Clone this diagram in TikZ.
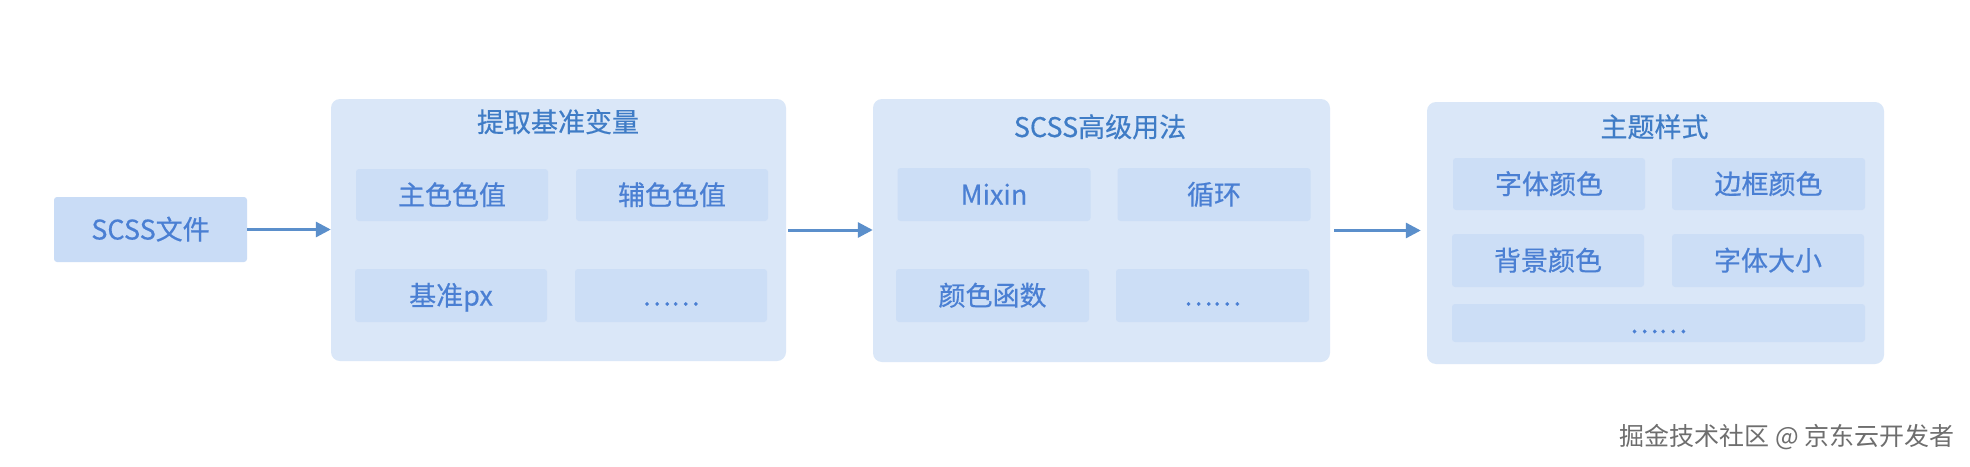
\documentclass[tikz,border=0pt]{standalone}
\usepackage{fontspec}
\newfontfamily\cjk[FakeBold=0.5]{Noto Sans CJK SC}
\newfontfamily\cjkwm{Noto Sans CJK SC}
\usetikzlibrary{arrows.meta}
\definecolor{bigfill}{HTML}{DAE7F8}
\definecolor{innerfill}{HTML}{CCDEF6}
\definecolor{srcfill}{HTML}{C9DCF6}
\definecolor{txtblue}{HTML}{4A7FD3}
\definecolor{ttlblue}{HTML}{3F7CC6}
\definecolor{arrowblue}{HTML}{5B8FCB}
\definecolor{wmgray}{HTML}{6E6E6E}
\begin{document}
\begin{tikzpicture}[x=1pt,y=-1pt,
  txt/.style={font=\cjk\fontsize{27}{32}\selectfont, text height=20.5pt, text depth=0.5pt, inner sep=0pt},
  group/.style={fill=bigfill, rounded corners=9pt, draw=none, inner sep=0pt},
  item/.style={txt, fill=innerfill, rounded corners=3pt, text=txtblue},
  src/.style={txt, fill=srcfill, rounded corners=3pt, text=txtblue},
  ttl/.style={txt, text=ttlblue},
  flow/.style={draw=arrowblue, line width=3pt, -{Triangle[length=15pt,width=15pt]}}
]
\useasboundingbox[fill=white] (0,0) rectangle (1970,466);

% source
\node[src, minimum width=193pt, minimum height=65pt] (scss) at (150.5,229.5) {SCSS文件};

% group 1
\node[group, minimum width=455pt, minimum height=262pt] (g1) at (558.5,230) {};
\node[ttl] (t1) at (558,122) {提取基准变量};
\node[item, minimum width=192pt, minimum height=52pt] (a11) at (452,195) {主色色值};
\node[item, minimum width=192pt, minimum height=52pt] (a12) at (672,195) {辅色色值};
\node[item, minimum width=192pt, minimum height=53pt] (a21) at (451,295.5) {基准px};
\node[item, minimum width=192pt, minimum height=53pt] (a22) at (671,295.5) {……};

% group 2
\node[group, minimum width=457pt, minimum height=263pt] (g2) at (1101.5,230.5) {};
\node[ttl] (t2) at (1100,127) {SCSS高级用法};
\node[item, minimum width=193pt, minimum height=53pt] (b11) at (994,194.5) {Mixin};
\node[item, minimum width=193pt, minimum height=53pt] (b12) at (1214,194.5) {循环};
\node[item, minimum width=193pt, minimum height=53pt] (b21) at (992.5,295.5) {颜色函数};
\node[item, minimum width=193pt, minimum height=53pt] (b22) at (1212.5,295.5) {……};

% group 3
\node[group, minimum width=457pt, minimum height=262pt] (g3) at (1655.5,233) {};
\node[ttl] (t3) at (1654.5,127) {主题样式};
\node[item, minimum width=192pt, minimum height=52pt] (c11) at (1549,184) {字体颜色};
\node[item, minimum width=193pt, minimum height=52pt] (c12) at (1768.5,184) {边框颜色};
\node[item, minimum width=192pt, minimum height=53pt] (c21) at (1548,260.5) {背景颜色};
\node[item, minimum width=192pt, minimum height=53pt] (c22) at (1768,260.5) {字体大小};
\node[item, minimum width=413pt, minimum height=38pt] (c3) at (1658.5,323) {……};

% connectors
\draw[flow] (scss.east) -- (scss.east -| g1.west);
\draw[flow, shorten <=2pt] (g1.east) -- (g1.east -| g2.west);
\draw[flow, shorten <=4pt, shorten >=6pt] (g2.east) -- (g2.east -| g3.west);

% watermark
\node[font=\cjkwm\fontsize{25}{30}\selectfont, text height=19pt, text depth=0.5pt, inner sep=0pt, text=wmgray] (wm) at (1787,436.5) {掘金技术社区 @ 京东云开发者};
\end{tikzpicture}
\end{document}
